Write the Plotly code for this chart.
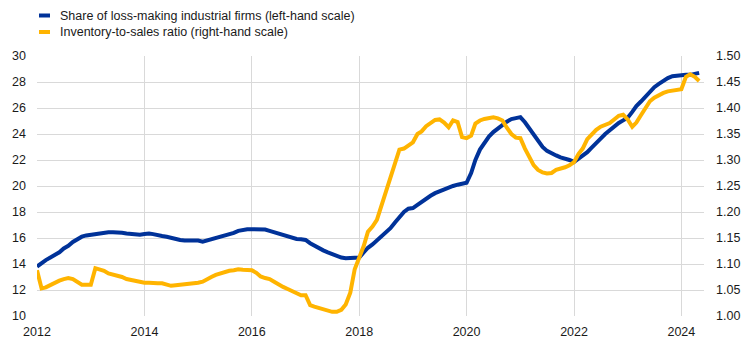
import pandas as pd
import plotly.graph_objects as go

# Monthly observations, January 2012 to May 2024
dates = pd.date_range("2012-01-01", "2024-05-01", freq="MS")

# Share of loss-making industrial firms (%), left-hand scale
loss_making_share = [
    # 2012
    13.8, 14.1, 14.3, 14.5, 14.7, 14.9, 15.2, 15.4, 15.7, 15.9, 16.1, 16.2,
    # 2013
    16.25, 16.3, 16.4, 16.45, 16.45, 16.45, 16.45, 16.4, 16.35, 16.3, 16.25, 16.25,
    # 2014
    16.3, 16.35, 16.3, 16.2, 16.15, 16.1, 16.0, 15.9, 15.85, 15.8, 15.8, 15.8,
    # 2015
    15.8, 15.72, 15.8, 15.9, 16.0, 16.1, 16.2, 16.3, 16.4, 16.55, 16.65, 16.68,
    # 2016
    16.68, 16.68, 16.68, 16.65, 16.55, 16.45, 16.35, 16.25, 16.15, 16.0, 15.93, 15.9,
    # 2017
    15.85, 15.6, 15.4, 15.2, 15.05, 14.9, 14.75, 14.6, 14.5, 14.45, 14.45, 14.5,
    # 2018
    14.5, 14.9, 15.25, 15.5, 15.8, 16.1, 16.4, 16.75, 17.2, 17.6, 18.0, 18.25,
    # 2019
    18.3, 18.55, 18.8, 19.05, 19.25, 19.45, 19.6, 19.75, 19.9, 20.0, 20.1, 20.2,
    # 2020
    20.25, 21.0, 22.0, 22.8, 23.3, 23.8, 24.15, 24.45, 24.75, 24.95, 25.15, 25.25,
    # 2021
    25.3, 24.9, 24.45, 23.9, 23.4, 23.0, 22.7, 22.5, 22.35, 22.2, 22.12, 22.0,
    # 2022
    21.85, 22.1, 22.35, 22.6, 22.95, 23.35, 23.65, 24.0, 24.3, 24.6, 24.85, 25.05,
    # 2023
    25.25, 25.7, 26.15, 26.5, 26.9, 27.25, 27.6, 27.85, 28.1, 28.3, 28.45, 28.5,
    # 2024
    28.55, 28.55, 28.55, 28.6, 28.7,
]

# Inventory-to-sales ratio, right-hand scale
inventory_to_sales = [
    # 2012
    1.088, 1.053, 1.055, 1.060, 1.064, 1.068, 1.071, 1.073, 1.071, 1.065, 1.060, 1.060,
    # 2013
    1.060, 1.092, 1.090, 1.087, 1.082, 1.080, 1.077, 1.075, 1.071, 1.069, 1.067, 1.066,
    # 2014
    1.064, 1.064, 1.063, 1.063, 1.063, 1.061, 1.058, 1.059, 1.060, 1.060, 1.061, 1.063,
    # 2015
    1.064, 1.066, 1.071, 1.075, 1.079, 1.082, 1.085, 1.087, 1.088, 1.090, 1.089, 1.089,
    # 2016
    1.088, 1.083, 1.076, 1.073, 1.071, 1.066, 1.060, 1.056, 1.052, 1.048, 1.043, 1.040,
    # 2017
    1.040, 1.021, 1.018, 1.015, 1.012, 1.009, 1.008, 1.008, 1.012, 1.022, 1.045, 1.090,
    # 2018
    1.112, 1.135, 1.162, 1.172, 1.185, 1.212, 1.240, 1.268, 1.298, 1.320, 1.322, 1.328,
    # 2019
    1.334, 1.350, 1.355, 1.365, 1.372, 1.377, 1.378, 1.372, 1.363, 1.376, 1.373, 1.344,
    # 2020
    1.342, 1.347, 1.370, 1.376, 1.379, 1.380, 1.382, 1.380, 1.376, 1.362, 1.350, 1.343,
    # 2021
    1.342, 1.322, 1.305, 1.290, 1.281, 1.276, 1.274, 1.275, 1.281, 1.283, 1.286, 1.290,
    # 2022
    1.296, 1.312, 1.322, 1.340, 1.350, 1.358, 1.364, 1.368, 1.371, 1.378, 1.385, 1.387,
    # 2023
    1.378, 1.364, 1.372, 1.386, 1.400, 1.413, 1.420, 1.425, 1.429, 1.432, 1.434, 1.434,
    # 2024
    1.436, 1.460, 1.465, 1.460, 1.452,
]

series_names = [
    "Share of loss-making industrial firms (left-hand scale)",
    "Inventory-to-sales ratio (right-hand scale)",
]
BLUE = "#003299"
YELLOW = "#FFB400"
GRID = "#D9D9D9"
TEXT = "#1A1A1A"
FONT = "Liberation Sans, Arial, sans-serif"

fig = go.Figure()
fig.add_trace(go.Scatter(
    x=dates, y=inventory_to_sales, yaxis="y2", mode="lines",
    name=series_names[1], line=dict(color=YELLOW, width=4),
    showlegend=False,
))
fig.add_trace(go.Scatter(
    x=dates, y=loss_making_share, mode="lines",
    name=series_names[0], line=dict(color=BLUE, width=4),
    showlegend=False,
))

# Legend drawn as short swatches with labels
W, H = 742, 343
ML, MR, MT, MB = 37, 38, 56, 27
pw, ph = W - ML - MR, H - MT - MB


def px_x(x):
    return (x - ML) / pw


def px_y(y):
    return 1 - (y - MT) / ph


for name, color, ypix in [(series_names[0], BLUE, 15.5), (series_names[1], YELLOW, 32)]:
    fig.add_shape(type="line", xref="paper", yref="paper",
                  x0=px_x(39), x1=px_x(50), y0=px_y(ypix), y1=px_y(ypix),
                  line=dict(color=color, width=4))
    fig.add_annotation(xref="paper", yref="paper", x=px_x(58), y=px_y(ypix),
                       text=name, showarrow=False, xanchor="left", yanchor="middle",
                       font=dict(family=FONT, size=12.5, color=TEXT))

fig.update_layout(
    width=W, height=H,
    margin=dict(l=ML, r=MR, t=MT, b=MB, pad=0, autoexpand=False),
    paper_bgcolor="white", plot_bgcolor="white",
    font=dict(family=FONT, size=12.5, color=TEXT),
    xaxis=dict(
        type="date", range=["2012-01-01", "2024-06-03"],
        tick0="2012-01-01", dtick="M24", tickformat="%Y",
        showgrid=True, gridcolor=GRID, gridwidth=1, automargin=False,
        showline=False, zeroline=False, ticks="", ticklabelstandoff=6,
    ),
    yaxis=dict(
        range=[10, 30], dtick=2, showgrid=True, gridcolor=GRID, gridwidth=1,
        zeroline=False, showline=False, ticks="", ticklabelstandoff=10,
        automargin=False,
    ),
    yaxis2=dict(
        range=[1.0, 1.5], dtick=0.05, tickformat=".2f", overlaying="y", side="right",
        showgrid=False, zeroline=False, showline=False, ticks="", ticklabelstandoff=11,
        automargin=False,
    ),
)

fig.write_html("out.html")
